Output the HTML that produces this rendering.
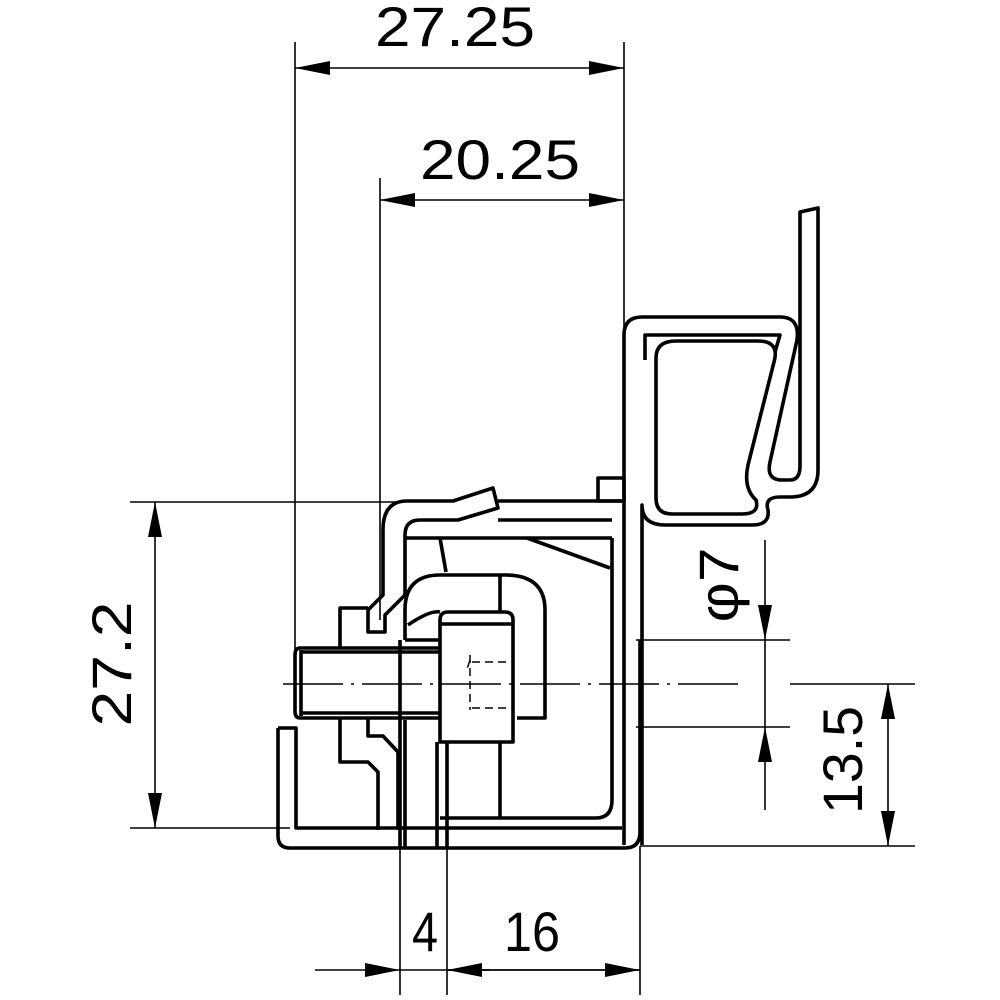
<!DOCTYPE html>
<html><head><meta charset="utf-8"><style>html,body{margin:0;padding:0;background:#fff}svg{display:block}</style></head><body>
<svg width="1000" height="1000" viewBox="0 0 1000 1000" xmlns="http://www.w3.org/2000/svg" font-family="Liberation Sans, sans-serif">
<defs>
<marker id="a" viewBox="0 0 20 8" refX="20" refY="4" markerWidth="44" markerHeight="14" markerUnits="userSpaceOnUse" orient="auto-start-reverse"><path d="M0,0 L20,4 L0,8Z" fill="#000"/></marker>
</defs>
<g stroke="#000" stroke-width="1.6" fill="none">
<line x1="295" y1="42" x2="295" y2="650"/>
<line x1="380" y1="178" x2="380" y2="620"/>
<line x1="624" y1="42" x2="624" y2="480"/>
<line x1="130" y1="502" x2="400" y2="502"/>
<line x1="130" y1="828" x2="290" y2="828"/>
<line x1="636" y1="640" x2="790" y2="640"/>
<line x1="636" y1="727" x2="790" y2="727"/>
<line x1="790" y1="684" x2="915" y2="684"/>
<line x1="640" y1="846" x2="915" y2="846"/>
<line x1="400" y1="846" x2="400" y2="995"/>
<line x1="447" y1="846" x2="447" y2="995"/>
<line x1="640" y1="846" x2="640" y2="995"/>
<line x1="295" y1="68" x2="624" y2="68" marker-start="url(#a)" marker-end="url(#a)"/>
<line x1="380" y1="200" x2="624" y2="200" marker-start="url(#a)" marker-end="url(#a)"/>
<line x1="155" y1="502" x2="155" y2="828" marker-start="url(#a)" marker-end="url(#a)"/>
<line x1="888" y1="684" x2="888" y2="846" marker-start="url(#a)" marker-end="url(#a)"/>
<line x1="765" y1="540" x2="765" y2="640" marker-end="url(#a)"/>
<line x1="765" y1="640" x2="765" y2="727"/>
<line x1="765" y1="810" x2="765" y2="727" marker-end="url(#a)"/>
<line x1="315" y1="970" x2="400" y2="970" marker-end="url(#a)"/>
<line x1="400" y1="970" x2="640" y2="970"/>
<line x1="490" y1="970" x2="447" y2="970" marker-end="url(#a)"/>
<line x1="447" y1="970" x2="640" y2="970" marker-end="url(#a)"/>
<line x1="283" y1="684" x2="745" y2="684" stroke-dasharray="60,8,3,8"/>
</g>
<g stroke="#000" stroke-width="3.6" fill="none" stroke-linejoin="round">
<path d="M278,728 V836 Q278,848 290,848 H625 Q640,848 640,832 V640"/>
<path d="M278,728 H296 V828 H622"/>
<path d="M440,818 H596 Q612,818 612,800 V538"/>
<path d="M407,501 H453 L493,488 L498,508 L458,520 H420 Q405,520 405,535 V595 L385,615 V632 H368 V610 L383,595 V530 Q383,501 407,501"/>
<path d="M498,501 H624"/>
<path d="M498,520 H612"/>
<path d="M405,538 H612"/>
<path d="M440,538 L446,572"/>
<path d="M527,538 L610,568"/>
<rect x="598" y="478" width="26" height="23"/>
<path d="M405,640 V610 Q405,575 440,575 H505 Q545,575 545,610 V718 H517"/>
<path d="M500,575 V612"/>
<path d="M408,625 Q430,610 440,612"/>
<path d="M440,742 V620 Q440,612 448,612 H505 Q513,612 513,620 V742 Z"/>
<line x1="440" y1="624" x2="513" y2="624"/>
<path d="M500,742 V818"/>
<path d="M437,742 V848 M447,742 V848 M400,640 V848 M405,720 V848"/>
<path d="M440,648 H300 Q295,648 295,655 V711 Q295,718 300,718 H440"/>
<path d="M301,652 H440 M301,713 H440 M301,650 V716"/>
<path d="M405,640 H440"/>
<path d="M340,648 V608 H368"/>
<path d="M340,718 V762 H368 L378,772 V830"/>
<path d="M368,718 V736 H383 L398,752 V830"/>
<path d="M624,845 V335 Q624,317 642,317 H780 Q800,317 797,340 L770,462 Q766,480 782,480 H790 Q800,480 800,466 V212 L818,208 V470 Q818,497 790,497 H780 Q764,497 768,510 Q770,525 752,525 H665 Q642,525 642,505 V845"/>
<path d="M656,498 V358 Q656,341 676,341 H758 Q780,341 774,362 L748,465 Q743,488 756,500 Q760,514 742,514 H672 Q656,514 656,498 Z"/>
<path d="M645,360 V335 H780 L775,352"/>
</g>
<g stroke="#000" stroke-width="1.5" fill="none" stroke-dasharray="8,5">
<path d="M470,660 L466,672 M470,655 V710 M472,662 H510 M472,708 H510"/>
</g>
<g fill="#000" font-size="56" text-anchor="middle" lengthAdjust="spacingAndGlyphs">
<text x="455" y="46" textLength="160" lengthAdjust="spacingAndGlyphs">27.25</text>
<text x="500" y="179" textLength="160" lengthAdjust="spacingAndGlyphs">20.25</text>
<text x="425" y="951" textLength="26" lengthAdjust="spacingAndGlyphs">4</text>
<text x="532" y="951" textLength="56" lengthAdjust="spacingAndGlyphs">16</text>
<text transform="translate(131,664) rotate(-90)" textLength="125" lengthAdjust="spacingAndGlyphs">27.2</text>
<text transform="translate(862,760) rotate(-90)" textLength="108" lengthAdjust="spacingAndGlyphs">13.5</text>
<text transform="translate(738,585) rotate(-90)" textLength="75" lengthAdjust="spacingAndGlyphs">φ7</text>
</g>
</svg>
</body></html>
